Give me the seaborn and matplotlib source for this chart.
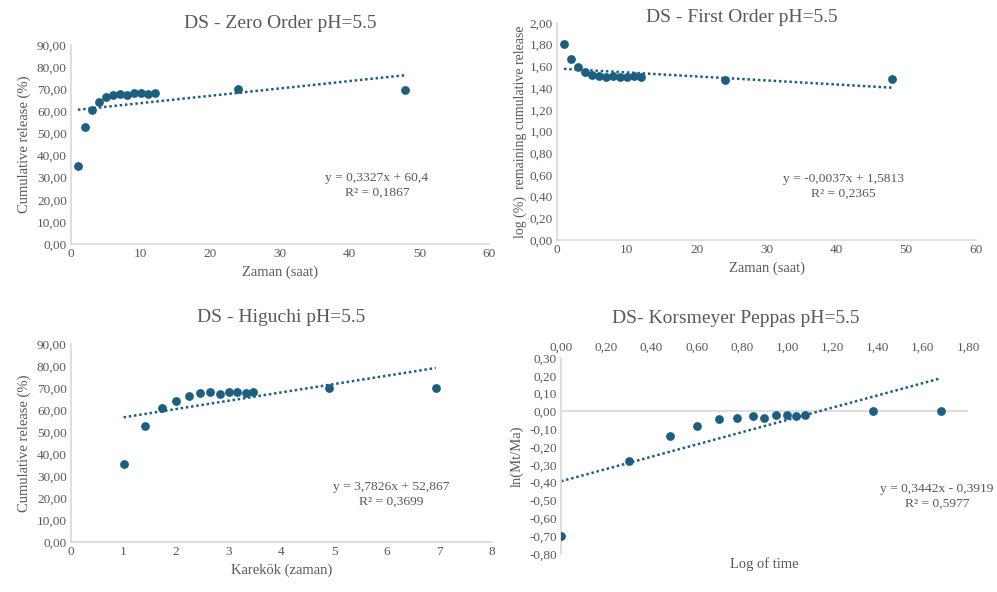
import numpy as np
import matplotlib
matplotlib.use("Agg")
import matplotlib.pyplot as plt
import seaborn as sns
from matplotlib.ticker import FuncFormatter, MultipleLocator

# datos
saat = [1, 2, 3, 4, 5, 6, 7, 8, 9, 10, 11, 12, 24, 48]
kumulatif = [35.5, 52.8, 60.8, 64.2, 66.5, 67.5, 68.0, 67.3, 68.3, 68.2, 67.8, 68.2, 70.2, 69.8]
log_kalan = [1.81, 1.67, 1.59, 1.55, 1.52, 1.51, 1.50, 1.51, 1.50, 1.50, 1.51, 1.50, 1.47, 1.48]
karekok = [1.00, 1.41, 1.73, 2.00, 2.24, 2.45, 2.65, 2.83, 3.00, 3.16, 3.32, 3.46, 4.90, 6.93]
log_zaman = [0.00, 0.30, 0.48, 0.60, 0.70, 0.78, 0.85, 0.90, 0.95, 1.00, 1.04, 1.08, 1.38, 1.68]
ln_mtma = [-0.70, -0.28, -0.14, -0.08, -0.045, -0.035, -0.028, -0.035, -0.022, -0.022, -0.028, -0.022, 0.005, 0.0]

# trend lines (slope, intercept) as printed
egim = [0.3327, -0.0037, 3.7826, 0.3442]
kesim = [60.4, 1.5813, 52.867, -0.3919]
denklem = ["y = 0,3327x + 60,4\nR² = 0,1867",
           "y = -0,0037x + 1,5813\nR² = 0,2365",
           "y = 3,7826x + 52,867\nR² = 0,3699",
           "y = 0,3442x - 0,3919\nR² = 0,5977"]

MAVI = "#1c5f80"
GRI = "#595959"
CIZGI = "#d9d9d9"

sns.set_theme(style="white")
plt.rcParams['font.family'] = ['Liberation Serif', 'DejaVu Serif']


def virgul(fmt):
    return FuncFormatter(lambda v, p: (fmt % v).replace(".", ","))


def hazirla(ax, title, xlabel, ylabel, pad=12, tx=0.5):
    for s in ["top", "right"]:
        ax.spines[s].set_visible(False)
    for s in ["left", "bottom"]:
        ax.spines[s].set_color(CIZGI)
        ax.spines[s].set_linewidth(1.2)
    ax.tick_params(length=0, labelsize=9.5, colors=GRI, pad=3)
    ax.set_title(title, fontsize=14, color=GRI, pad=pad, x=tx)
    ax.set_xlabel(xlabel, fontsize=10.5, color=GRI)
    ax.set_ylabel(ylabel, fontsize=10.5, color=GRI)


def nokta_ve_trend(ax, x, y, i):
    sns.scatterplot(x=x, y=y, ax=ax, color=MAVI, s=40, edgecolor=MAVI, linewidth=0, zorder=3)
    xs = np.array([min(x), max(x)])
    ax.plot(xs, egim[i] * xs + kesim[i], linestyle=(0, (1, 1.1)), color=MAVI, lw=1.8, zorder=2)


def yazi(ax, x, y, i):
    ax.text(x, y, denklem[i], ha="center", va="center", fontsize=9.7, color=GRI,
            linespacing=1.3, clip_on=False)


fig = plt.figure(figsize=(9.97, 5.92), dpi=100)

# Zero order
ax1 = fig.add_axes([0.0712, 0.5878, 0.4193, 0.3361])
nokta_ve_trend(ax1, saat, kumulatif, 0)
hazirla(ax1, "DS - Zero Order pH=5.5", "Zaman (saat)", "Cumulative release (%)", pad=12)
ax1.set_xlim(0, 60)
ax1.set_ylim(0, 90)
ax1.xaxis.set_major_locator(MultipleLocator(10))
ax1.yaxis.set_major_locator(MultipleLocator(10))
ax1.yaxis.set_major_formatter(virgul("%.2f"))
yazi(ax1, 43.9, 26.5, 0)

# First order
ax2 = fig.add_axes([0.5587, 0.5946, 0.4203, 0.3666])
nokta_ve_trend(ax2, saat, log_kalan, 1)
hazirla(ax2, "DS - First Order pH=5.5", "Zaman (saat)", "log (%)  remaining cumulative release",
        pad=1, tx=0.44)
ax2.set_xlim(0, 60)
ax2.set_ylim(0, 2.0)
ax2.xaxis.set_major_locator(MultipleLocator(10))
ax2.yaxis.set_major_locator(MultipleLocator(0.2))
ax2.yaxis.set_major_formatter(virgul("%.2f"))
ax2.set_ylabel("log (%)  remaining cumulative release", fontsize=10, color=GRI, labelpad=2)
yazi(ax2, 41.0, 0.49, 1)

# Higuchi
ax3 = fig.add_axes([0.0712, 0.0845, 0.4223, 0.3345])
nokta_ve_trend(ax3, karekok, kumulatif, 2)
hazirla(ax3, "DS - Higuchi pH=5.5", "Karekök (zaman)", "Cumulative release (%)", pad=16)
ax3.set_xlim(0, 8)
ax3.set_ylim(0, 90)
ax3.xaxis.set_major_locator(MultipleLocator(1))
ax3.yaxis.set_major_locator(MultipleLocator(10))
ax3.yaxis.set_major_formatter(virgul("%.2f"))
yazi(ax3, 6.08, 21.8, 2)

# Korsmeyer Peppas
ax4 = fig.add_axes([0.5627, 0.0642, 0.4082, 0.3311])
nokta_ve_trend(ax4, log_zaman, ln_mtma, 3)
hazirla(ax4, "DS- Korsmeyer Peppas pH=5.5", "Log of time", "ln(Mt/Ma)", pad=25, tx=0.43)
ax4.set_xlim(0, 1.8)
ax4.set_ylim(-0.8, 0.3)
ax4.xaxis.set_major_locator(MultipleLocator(0.2))
ax4.yaxis.set_major_locator(MultipleLocator(0.1))
ax4.xaxis.set_major_formatter(virgul("%.2f"))
ax4.yaxis.set_major_formatter(virgul("%.2f"))
ax4.xaxis.tick_top()
ax4.spines["bottom"].set_visible(False)
ax4.axhline(0, color=CIZGI, lw=1.2, zorder=1)
ax4.set_xlabel("Log of time", fontsize=10.5, color=GRI, labelpad=2)
yazi(ax4, 1.663, -0.475, 3)

fig.savefig("out.png", dpi=100, facecolor="white")
